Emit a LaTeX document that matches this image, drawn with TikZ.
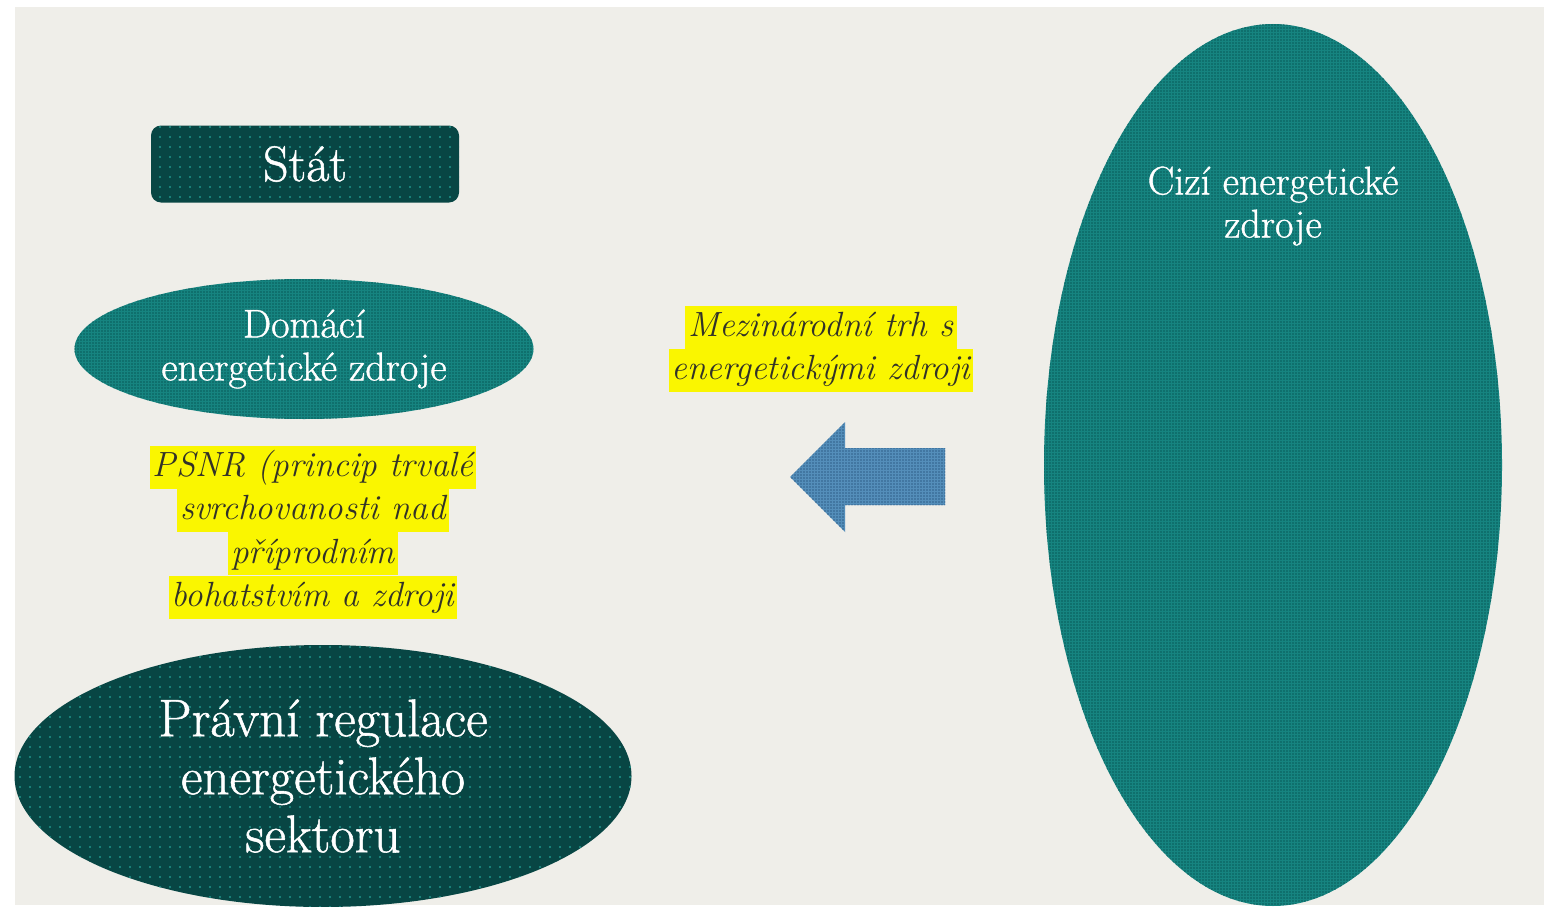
\documentclass[tikz,border=0pt]{standalone}
\usepackage{fontspec}
\usepackage{tikz}
\usetikzlibrary{positioning, shapes.geometric, patterns.meta}

\newfontfamily\heavyroman{Latin Modern Roman}[FakeBold=1.0]

\definecolor{paper}{RGB}{239,238,233}
\definecolor{darkteal}{RGB}{8,70,68}
\definecolor{dotteal}{RGB}{30,150,140}
\definecolor{midteal}{RGB}{22,132,128}
\definecolor{checkteal}{RGB}{8,92,90}
\definecolor{arrowblue}{RGB}{84,142,186}
\definecolor{arrowdot}{RGB}{48,96,138}
\definecolor{marker}{RGB}{250,246,0}
\definecolor{inkgray}{RGB}{50,50,40}

\tikzset{
  dotfill/.style={fill=darkteal, postaction={pattern={Dots[distance=10pt, radius=1.1pt]}, pattern color=dotteal}},
  checkfill/.style={fill=midteal, postaction={pattern={Dots[distance=3pt, radius=0.8pt]}, pattern color=checkteal}},
  whitetext/.style={text=white, align=center},
  hl/.style={fill=marker, text=inkgray, inner xsep=3pt, inner ysep=1pt,
    text height=30pt, text depth=11pt, font=\fontsize{35}{43}\selectfont\itshape}
}

\begin{document}
\begin{tikzpicture}[x=1pt, y=-1pt]
  % Page
  \useasboundingbox (0,0) rectangle (1544,907);
  \fill[white] (0,0) rectangle (1544,907);
  \fill[paper] (15,7) rectangle (1544,905);

  % Stat
  \node[dotfill, rounded corners=10pt, minimum width=308pt, minimum height=77pt,
        whitetext, font=\heavyroman\fontsize{50}{56}\selectfont] (stat) at (305,164) {Stát};

  % Domestic resources
  \node[ellipse, checkfill, minimum width=459pt, minimum height=140pt, inner sep=0pt,
        whitetext, font=\heavyroman\fontsize{40}{43}\selectfont] (domaci) at (304,349)
        {Domácí\\energetické zdroje};

  % PSNR
  \node[hl] (psnr1) at (313,467) {PSNR (princip trvalé};
  \node[hl, below=0pt of psnr1] (psnr2) {svrchovanosti nad};
  \node[hl, below=0pt of psnr2] (psnr3) {příprodním};
  \node[hl, below=0pt of psnr3] (psnr4) {bohatstvím a zdroji};

  % Legal regulation
  \node[ellipse, dotfill, minimum width=617pt, minimum height=262pt, inner sep=0pt,
        whitetext, font=\heavyroman\fontsize{53}{58}\selectfont] (pravni) at (323,776)
        {Právní regulace\\energetického\\sektoru};

  % Foreign resources
  \node[ellipse, checkfill, minimum width=458pt, minimum height=882pt] (cizi) at (1273,465) {};
  \node[whitetext, font=\heavyroman\fontsize{40}{43}\selectfont] (cizitext) at (1273,206)
        {Cizí energetické\\zdroje};

  % International market
  \node[hl] (trh1) at (821,327) {Mezinárodní trh s};
  \node[hl, below=0pt of trh1] (trh2) {energetickými zdroji};

  % Arrow
  \fill[arrowblue, postaction={pattern={Dots[distance=3pt, radius=0.8pt]}, pattern color=arrowdot}]
    (945,448) -- (845,448) -- (845,422) -- (790,477) -- (845,532) -- (845,505) -- (945,505) -- cycle;
\end{tikzpicture}
\end{document}
